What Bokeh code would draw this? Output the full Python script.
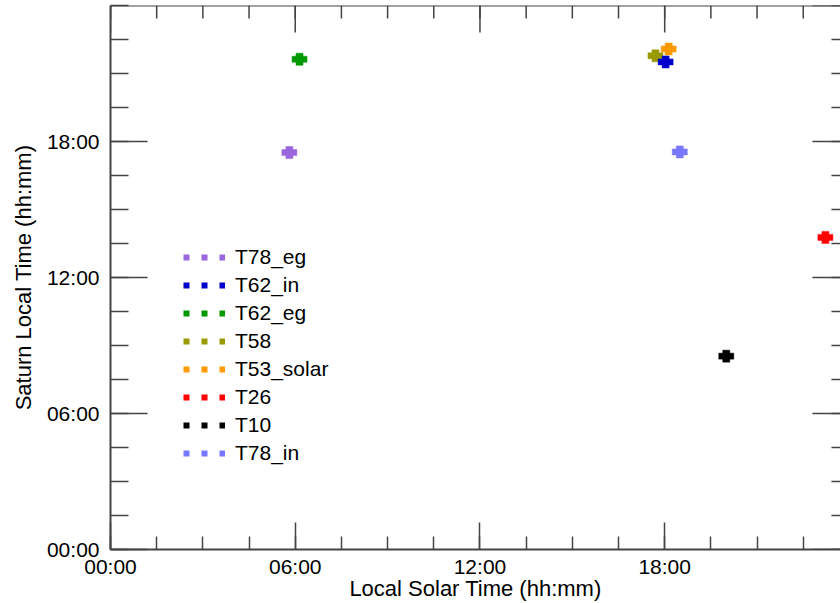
import math
from bokeh.plotting import figure
from bokeh.models import Range1d, LinearAxis, FixedTicker, Legend, LegendItem, ColumnDataSource, Span
from bokeh.embed import file_html
from bokeh.resources import INLINE

# ---- data ----
names = ["T78_eg", "T62_in", "T62_eg", "T58", "T53_solar", "T26", "T10", "T78_in"]
colors = ["#9966dd", "#0000cc", "#009900", "#999900", "#ff9900", "#ff0000", "#000000", "#7777ff"]
local_solar_time = [5.81, 18.03, 6.14, 17.70, 18.13, 23.22, 20.00, 18.49]
saturn_local_time = [17.51, 21.51, 21.63, 21.78, 22.08, 13.77, 8.53, 17.54]
draw_order = [0, 2, 3, 4, 1, 5, 6, 7]

major_ticks = [0, 6, 12, 18]
tick_labels = ["00:00", "06:00", "12:00", "18:00"]
minor_ticks = [0, 1.5, 3, 4.5, 6, 7.5, 9, 10.5, 12, 13.5, 15, 16.5, 18, 19.5, 21, 22.5, 24]
major_ticks_full = [0, 6, 12, 18, 24]
axis_max = 24

FONT = "Liberation Sans"
AX_COLOR = "#444444"

p = figure(width=840, height=603,
           x_range=Range1d(0, 23.71), y_range=Range1d(0, axis_max),
           output_backend="svg", toolbar_location=None,
           x_axis_location=None, y_axis_location=None,
           min_border_left=110, min_border_right=0,
           min_border_top=5, min_border_bottom=54)
p.outline_line_color = None
p.grid.visible = False
p.background_fill_color = "white"
p.border_fill_color = "white"


def make_axis(major_in, minor_in):
    ax = LinearAxis(ticker=FixedTicker(ticks=major_ticks, minor_ticks=minor_ticks))
    ax.major_tick_in = major_in
    ax.major_tick_out = 0
    ax.minor_tick_in = minor_in
    ax.minor_tick_out = 0
    ax.major_tick_line_color = AX_COLOR
    ax.minor_tick_line_color = AX_COLOR
    ax.major_tick_line_width = 1.5
    ax.minor_tick_line_width = 1.5
    ax.axis_line_color = AX_COLOR
    ax.axis_line_width = 2
    ax.major_label_overrides = dict(zip(major_ticks, tick_labels))
    ax.major_label_text_font = FONT
    ax.major_label_text_font_size = "21px"
    ax.major_label_text_color = "black"
    ax.axis_label_text_font = FONT
    ax.axis_label_text_font_style = "normal"
    ax.axis_label_text_color = "black"
    return ax


bottom = make_axis(27, 13)
bottom.axis_label = "Local Solar Time (hh:mm)"
bottom.axis_label_text_font_size = "22px"
bottom.major_label_standoff = 5
bottom.axis_label_standoff = -5
p.add_layout(bottom, "below")

left = make_axis(37, 18)
left.axis_label = "Saturn Local Time (hh:mm)"
left.axis_label_text_font_size = "22px"
left.major_label_standoff = 11
left.axis_label_standoff = 8
p.add_layout(left, "left")

# top border and inward ticks on the top and right sides
p.add_layout(Span(location=axis_max, dimension="width", line_color=AX_COLOR, line_width=2))

top_minor = ColumnDataSource(dict(x=minor_ticks, y=[axis_max] * len(minor_ticks)))
top_major = ColumnDataSource(dict(x=major_ticks_full, y=[axis_max] * len(major_ticks_full)))
p.ray("x", "y", source=top_minor, length=13, length_units="screen", angle=-math.pi / 2,
      line_color=AX_COLOR, line_width=1.5)
p.ray("x", "y", source=top_major, length=27, length_units="screen", angle=-math.pi / 2,
      line_color=AX_COLOR, line_width=1.5)

right_minor = ColumnDataSource(dict(x=[axis_max] * len(minor_ticks), y=minor_ticks))
right_major = ColumnDataSource(dict(x=[axis_max] * len(major_ticks_full), y=major_ticks_full))
p.ray("x", "y", source=right_minor, length=18, length_units="screen", angle=math.pi,
      line_color=AX_COLOR, line_width=1.5)
p.ray("x", "y", source=right_major, length=37, length_units="screen", angle=math.pi,
      line_color=AX_COLOR, line_width=1.5)

# ---- data markers (thick plus shapes) ----
for i in draw_order:
    src = ColumnDataSource(dict(x=[local_solar_time[i]], y=[saturn_local_time[i]]))
    p.rect("x", "y", width=15, height=6, width_units="screen", height_units="screen",
           source=src, fill_color=colors[i], line_color=colors[i], line_alpha=0.5, line_width=1)
    p.rect("x", "y", width=7, height=12, width_units="screen", height_units="screen",
           source=src, fill_color=colors[i], line_color=colors[i], line_alpha=0.5, line_width=1)

# legend glyphs: a dotted line per series (single point, so nothing drawn in the plot)
items = []
for i, name in enumerate(names):
    r = p.line(x=[local_solar_time[i]], y=[saturn_local_time[i]], line_color=colors[i],
               line_width=6, line_dash="6 12", line_cap="butt")
    items.append(LegendItem(label=name, renderers=[r]))

legend = Legend(items=items, location=(73, 84),
                glyph_width=42, glyph_height=20, label_standoff=10, spacing=4,
                padding=0, margin=0, border_line_color=None, background_fill_alpha=0,
                label_text_font=FONT, label_text_font_size="21px", label_text_color="black",
                label_height=20)
p.add_layout(legend)

open("out.html", "w").write(file_html(p, INLINE))
